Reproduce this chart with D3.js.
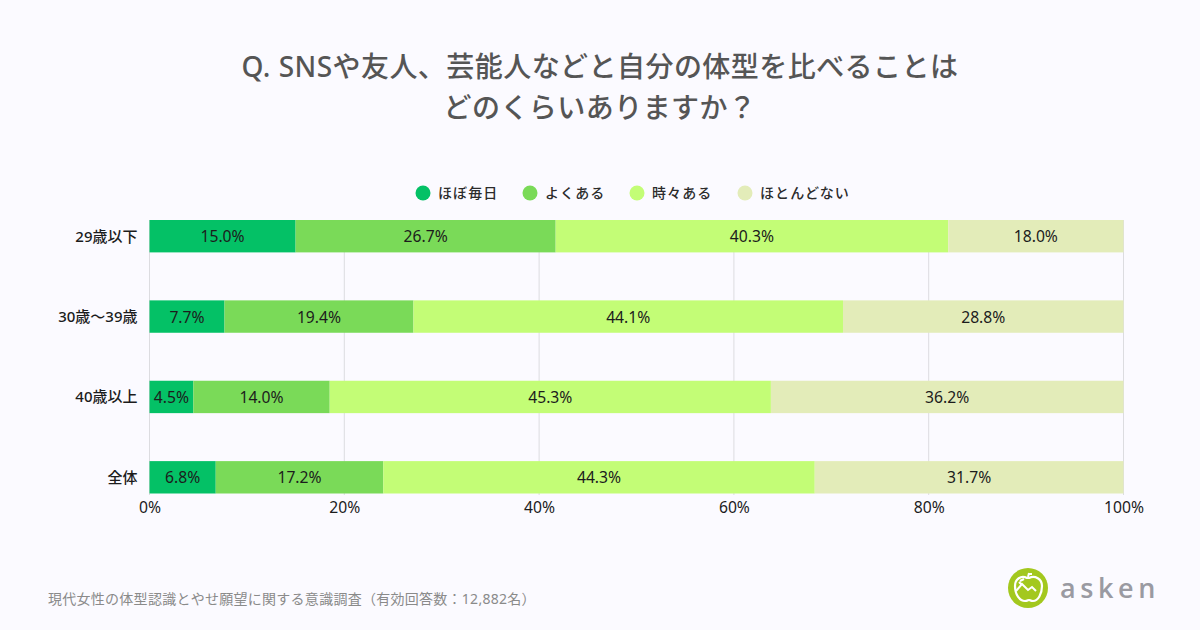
<!DOCTYPE html>
<html lang="ja">
<head>
<meta charset="utf-8">
<script src="https://cdn.jsdelivr.net/npm/d3@7"></script>
<style>
    html, body { margin: 0; padding: 0; background: #fbfaff; }
    svg { display: block; }
    text { font-family: "Noto Sans", "Noto Sans CJK JP", sans-serif; }
</style>
</head>
<body>
<svg id="chart" width="1200" height="630"></svg>
<script>
const titleLines = ['Q. SNSや友人、芸能人などと自分の体型を比べることは', 'どのくらいありますか？'];
const footnote = '現代女性の体型認識とやせ願望に関する意識調査（有効回答数：12,882名）';

const categories = ['29歳以下', '30歳～39歳', '40歳以上', '全体'];
const seriesNames = ['ほぼ毎日', 'よくある', '時々ある', 'ほとんどない'];
const seriesColors = ['#04c166', '#7ada58', '#c3fd76', '#e3ecb9'];
const daily = [15.0, 7.7, 4.5, 6.8];
const often = [26.7, 19.4, 14.0, 17.2];
const sometimes = [40.3, 44.1, 45.3, 44.3];
const rarely = [18.0, 28.8, 36.2, 31.7];
const xTicks = [0, 20, 40, 60, 80, 100];

const rows = categories.map((c, i) => ({
    category: c,
    0: daily[i],
    1: often[i],
    2: sometimes[i],
    3: rarely[i]
}));

const fontFamily = '"Noto Sans", "Noto Sans CJK JP", sans-serif';
const svg = d3.select('#chart');

const x = d3.scaleLinear().domain([0, 100]).range([149.5, 1123.5]);
const y = d3.scaleBand().domain(categories).range([220, 493.5]).paddingInner(0.597);

// title
svg.append('g')
    .selectAll('text')
    .data(titleLines)
    .join('text')
    .attr('x', 600)
    .attr('y', (d, i) => 76.5 + i * 41)
    .attr('text-anchor', 'middle')
    .attr('fill', '#555555')
    .attr('font-size', 28)
    .attr('font-weight', 500)
    .attr('letter-spacing', 0.45)
    .text(d => d);

// legend
const legendX = [423, 530, 637, 745];
const legend = svg.append('g')
    .selectAll('g')
    .data(seriesNames)
    .join('g')
    .attr('transform', (d, i) => `translate(${legendX[i]}, 193)`);
legend.append('circle')
    .attr('r', 7.5)
    .attr('fill', (d, i) => seriesColors[i]);
legend.append('text')
    .attr('x', 15)
    .attr('y', 5)
    .attr('font-size', 14)
    .attr('font-weight', 500)
    .attr('letter-spacing', 1.1)
    .attr('fill', '#2b2b2b')
    .text(d => d);

// grid
svg.append('g')
    .selectAll('line')
    .data(xTicks)
    .join('line')
    .attr('x1', d => x(d))
    .attr('x2', d => x(d))
    .attr('y1', 220)
    .attr('y2', 495)
    .attr('stroke', '#dcdce0')
    .attr('stroke-width', 1);

// bars
const stacked = d3.stack().keys([0, 1, 2, 3])(rows);
const layers = svg.append('g')
    .selectAll('g')
    .data(stacked)
    .join('g')
    .attr('fill', d => seriesColors[d.key]);
layers.selectAll('rect')
    .data(d => d)
    .join('rect')
    .attr('x', d => x(d[0]))
    .attr('y', d => y(d.data.category))
    .attr('width', d => x(d[1]) - x(d[0]))
    .attr('height', y.bandwidth());

// value labels
layers.selectAll('text')
    .data(d => d)
    .join('text')
    .attr('x', d => x((d[0] + d[1]) / 2))
    .attr('y', d => y(d.data.category) + y.bandwidth() / 2 + 6)
    .attr('text-anchor', 'middle')
    .attr('font-size', 15.7)
    .attr('fill', '#1c1c1c')
    .text(d => (d[1] - d[0]).toFixed(1) + '%');

// axes
const xAxis = d3.axisBottom(x).tickValues(xTicks).tickSize(0).tickPadding(0).tickFormat(d => d + '%');
svg.append('g')
    .attr('transform', 'translate(0, 501.5)')
    .call(xAxis)
    .call(g => g.select('.domain').remove())
    .call(g => g.selectAll('text').attr('font-size', 15.7).attr('fill', '#1c1c1c').attr('font-family', fontFamily));

const yAxis = d3.axisLeft(y).tickSize(0).tickPadding(12);
svg.append('g')
    .attr('transform', 'translate(149.5, 0.5)')
    .call(yAxis)
    .call(g => g.select('.domain').remove())
    .call(g => g.selectAll('text').attr('font-size', 15).attr('font-weight', 500).attr('fill', '#1c1c1c').attr('font-family', fontFamily));

// footnote
svg.append('text')
    .attr('x', 48)
    .attr('y', 604)
    .attr('font-size', 14)
    .attr('letter-spacing', 0.27)
    .attr('fill', '#8a8a8a')
    .text(footnote);

// logo
const logo = svg.append('g').attr('transform', 'translate(1028, 588)');
logo.append('circle').attr('r', 20).attr('fill', '#a3c81e');
logo.append('path')
    .attr('d', 'M-1,-10 C-7,-13 -13,-9 -13,-2 C-13,7 -8,13 -3,13 C-1,13 0,12 1,12 C2,12 3,13 5,13 C10,13 14,6 14,-2 C14,-9 7,-13 1,-10 Z')
    .attr('fill', 'none')
    .attr('stroke', '#fff')
    .attr('stroke-width', 2.2);
logo.append('path')
    .attr('d', 'M-12,3 L-6,-4 L0,2 L4,-1 L8,3 M-8,-7 L-4,-9 M-6,-3 L-9,-6 M0,-11 L1,-15 M0,-14 L4,-14')
    .attr('fill', 'none')
    .attr('stroke', '#fff')
    .attr('stroke-width', 2);
svg.append('text')
    .attr('x', 1060)
    .attr('y', 598)
    .attr('font-size', 27)
    .attr('font-weight', 600)
    .attr('letter-spacing', 4.6)
    .attr('fill', '#9a9aa2')
    .style('font-family', '"Open Sans", sans-serif')
    .text('asken');
</script>
</body>
</html>
